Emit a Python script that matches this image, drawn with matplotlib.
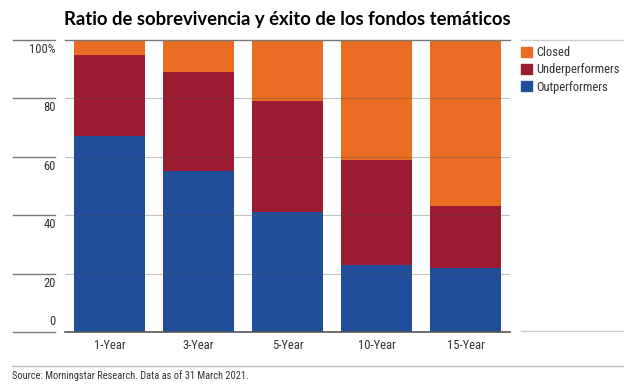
import matplotlib
matplotlib.use("Agg")
import matplotlib.pyplot as plt
import matplotlib.transforms as mtransforms
from matplotlib.patches import Patch
from matplotlib import font_manager
import numpy as np

categories = ["1-Year", "3-Year", "5-Year", "10-Year", "15-Year"]
outperformers = [67, 55, 41, 23, 22]
underperformers = [28, 34, 38, 36, 21]
closed = [5, 11, 21, 41, 57]
yticks = [0, 20, 40, 60, 80, 100]
ytick_labels = ["0", "20", "40", "60", "80", "100%"]

c_out = "#214e9b"
c_under = "#9b1c31"
c_closed = "#ea6d23"
txt = "#333333"
installed = {f.name for f in font_manager.fontManager.ttflist}
cond = [f for f in ["Liberation Sans Narrow", "Roboto Condensed", "Roboto"] if f in installed] + ["DejaVu Sans"]
narrow = cond[0] in ("Liberation Sans Narrow", "Roboto Condensed")
fs = 9 if narrow else 8.5
fs_leg = 9 if narrow else 8
fs_src = 7.5 if narrow else 6.9

fig = plt.figure(figsize=(6.24, 3.92), dpi=100)
ax = fig.add_axes([65/624, 60/392, 445/624, 292/392])

x = np.arange(len(categories))
out = np.array(outperformers)
und = np.array(underperformers)
clo = np.array(closed)
ax.bar(x, out, width=0.8, color=c_out, zorder=2)
ax.bar(x, und, bottom=out, width=0.8, color=c_under, zorder=2)
ax.bar(x, clo, bottom=out + und, width=0.8, color=c_closed, zorder=2)

ax.set_xlim(-0.5, len(categories) - 0.5)
ax.set_ylim(0, 100)
for s in ax.spines.values():
    s.set_visible(False)
ax.set_yticks([])
ax.set_xticks(x)
ax.set_xticklabels(categories, family=cond, fontsize=fs, color=txt)
ax.tick_params(axis="x", length=0, pad=5)

trans = mtransforms.blended_transform_factory(ax.transAxes, ax.transData)
for v in yticks[1:-1]:
    ax.plot([0, 1], [v, v], transform=trans, color="#555555", alpha=0.35, lw=0.8, zorder=3)
ax.plot([0, 1], [100, 100], transform=trans, color="#777777", lw=1.0, zorder=3, clip_on=False)
ax.plot([0, 1], [0, 0], transform=trans, color="#555555", lw=1.2, zorder=3, clip_on=False)

x0 = (13 - 65) / 445
x1 = (55 - 65) / 445
for v, lab in zip(yticks, ytick_labels):
    ax.plot([x0, x1], [v, v], transform=trans, color="#777777", lw=1.0, clip_on=False)
    if v == 0:
        ax.text((56 - 65) / 445, v + 1.2, lab, transform=trans, ha="right", va="bottom",
                family=cond, fontsize=fs, color=txt)
    else:
        ax.text((56 - 65) / 445, v - 1.0, lab, transform=trans, ha="right", va="top",
                family=cond, fontsize=fs, color=txt)

fig.add_artist(plt.Line2D([521/624, 1], [352/392, 352/392], color="#cccccc", lw=1.0))
fig.add_artist(plt.Line2D([521/624, 1], [61/392, 61/392], color="#cccccc", lw=1.0))
fig.add_artist(plt.Line2D([12/624, 1], [(392-366)/392, (392-366)/392], color="#bbbbbb", lw=1.0))

handles = [Patch(color=c_closed), Patch(color=c_under), Patch(color=c_out)]
labels = ["Closed", "Underperformers", "Outperformers"]
fig.legend(handles, labels, loc="upper left", bbox_to_anchor=(521/624, (392-46)/392),
           frameon=False, prop={"family": cond, "size": fs_leg}, labelcolor=txt,
           handlelength=0.85, handleheight=0.85, handletextpad=0.35, labelspacing=0.35,
           borderaxespad=0, borderpad=0)

fig.text(287/624, (392-20)/392, "Ratio de sobrevivencia y éxito de los fondos temáticos",
         ha="center", va="center", fontsize=13.3, fontweight="bold", family=["Lato", "DejaVu Sans"],
         color="#000000")
fig.text(12/624, (392-376)/392, "Source: Morningstar Research. Data as of 31 March 2021.",
         ha="left", va="center", fontsize=fs_src, family=cond, color=txt)

fig.savefig("out.png", dpi=100)
